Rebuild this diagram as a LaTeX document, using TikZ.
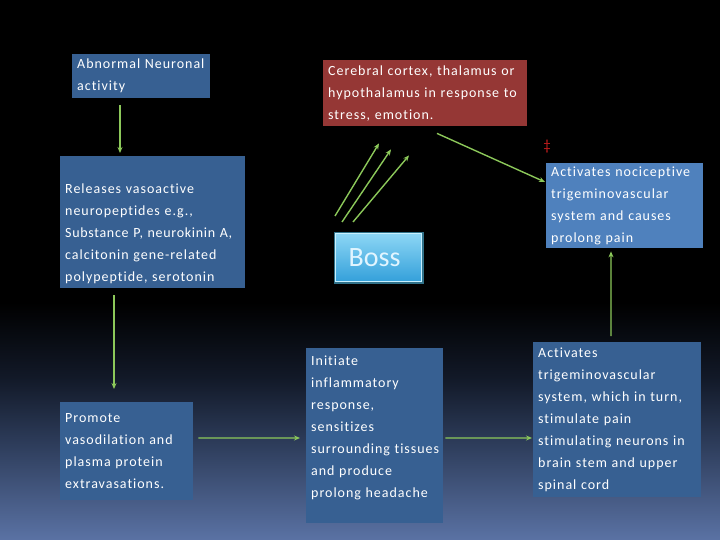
\documentclass[tikz,border=0pt]{standalone}
\usepackage{fontspec}
\setmainfont{Carlito}[LetterSpace=7,Ligatures={NoCommon}]
\usetikzlibrary{arrows.meta}
\definecolor{bgbot}{RGB}{90,114,164}
\definecolor{bgmida}{RGB}{45,60,90}
\definecolor{bgmidb}{RGB}{18,25,40}
\definecolor{boxblue}{RGB}{55,96,146}
\definecolor{boxlight}{RGB}{79,129,189}
\definecolor{boxred}{RGB}{149,55,53}
\definecolor{arrgreen}{RGB}{140,200,90}
\definecolor{dagred}{RGB}{200,30,30}
\pgfdeclareverticalshading{bgsh}{100bp}{color(0bp)=(bgbot); color(25bp)=(bgbot); color(34bp)=(bgmida); color(40bp)=(bgmidb); color(47bp)=(black); color(100bp)=(black)}
\tikzset{
  box/.style={fill=boxblue, draw=none, text=white, anchor=north west, align=left,
    inner xsep=5bp, inner ysep=0bp, font=\fontsize{14bp}{22bp}\selectfont},
  arr/.style={draw=arrgreen, line width=1.4bp, -{Stealth[length=6bp,width=5bp]}},
}
\begin{document}
\begin{tikzpicture}[x=1bp,y=-1bp]
\useasboundingbox (0,0) rectangle (720,540);
\shade[shading=bgsh] (0,0) rectangle (720,540);

\node[box, minimum width=138bp, minimum height=44bp, text width=128bp] (abn) at (72,54)
  {Abnormal Neuronal\\activity};
\node[box, fill=boxred, minimum width=204bp, minimum height=66bp, text width=194bp] (cer) at (323,60)
  {Cerebral cortex, thalamus or\\hypothalamus in response to\\stress, emotion.};
\node[box, minimum width=185bp, minimum height=132bp, text width=175bp] (rel) at (60,156)
  {\rule{0pt}{32bp}Releases vasoactive\\neuropeptides e.g.,\\\mbox{\addfontfeatures{LetterSpace=5}Substance P, neurokinin A,}\\calcitonin gene-related\\polypeptide, serotonin};
\node[box, fill=boxlight, minimum width=157bp, minimum height=85bp, text width=147bp] (noc) at (546,163)
  {Activates nociceptive\\trigeminovascular\\system and causes\\prolong pain};
\node[box, minimum width=133bp, minimum height=98bp, text width=123bp] (pro) at (60,402)
  {Promote\\vasodilation and\\plasma protein\\extravasations.};
\node[box, minimum width=137bp, minimum height=175bp, text width=127bp] (ini) at (306,348)
  {Initiate\\inflammatory\\response,\\sensitizes\\surrounding tissues\\and produce\\prolong headache\rule[-18bp]{0pt}{1bp}};
\node[box, minimum width=168bp, minimum height=155bp, text width=158bp] (trig) at (533,342)
  {Activates\\trigeminovascular\\system, which in turn,\\stimulate pain\\stimulating neurons in\\brain stem and upper\\spinal cord};

\node[anchor=north west, minimum width=86bp, minimum height=48bp, inner sep=0pt,
  top color={rgb,255:red,140;green,214;blue,245}, bottom color={rgb,255:red,52;green,160;blue,218},
  draw={rgb,255:red,200;green,240;blue,255}, line width=1.2bp,
  preaction={draw={rgb,255:red,80;green,190;blue,230}, line width=4bp, opacity=0.6},
  text={rgb,255:red,225;green,245;blue,255}, font=\fontsize{28bp}{30bp}\selectfont\addfontfeatures{LetterSpace=0}]
  (boss) at (335,233) {Boss\hspace*{8bp}};

\node[text=dagred, font=\fontsize{15bp}{15bp}\selectfont] (dag) at (547,147) {‡};

\draw[arr] ([xshift=48bp,yshift=-7bp]abn.south west) -- ([xshift=48bp,yshift=3bp]abn.south west |- rel.north);
\draw[arr] ([xshift=54bp,yshift=-7bp]rel.south west) -- ([xshift=54bp,yshift=13bp]pro.north west);
\draw[arr] ([xshift=5bp,yshift=-36bp]pro.north east) -- ([xshift=-6bp,yshift=-90bp]ini.north west);
\draw[arr] ([xshift=2bp,yshift=-90bp]ini.north east) -- ([xshift=-1bp,yshift=-96bp]trig.north west);
\draw[arr] ([xshift=78bp,yshift=6bp]trig.north west) -- ([xshift=65bp,yshift=-3bp]noc.south west);
\draw[arr] ([xshift=114bp,yshift=-7bp]cer.south west) -- ([xshift=-1bp,yshift=-19bp]noc.north west);
\draw[arr] ([xshift=0bp,yshift=17bp]boss.north west) -- ([xshift=56bp,yshift=-17bp]cer.south west);
\draw[arr] ([xshift=7bp,yshift=11bp]boss.north west) -- ([xshift=68bp,yshift=-23bp]cer.south west);
\draw[arr] ([xshift=18bp,yshift=11bp]boss.north west) -- ([xshift=86bp,yshift=-29bp]cer.south west);
\end{tikzpicture}
\end{document}
